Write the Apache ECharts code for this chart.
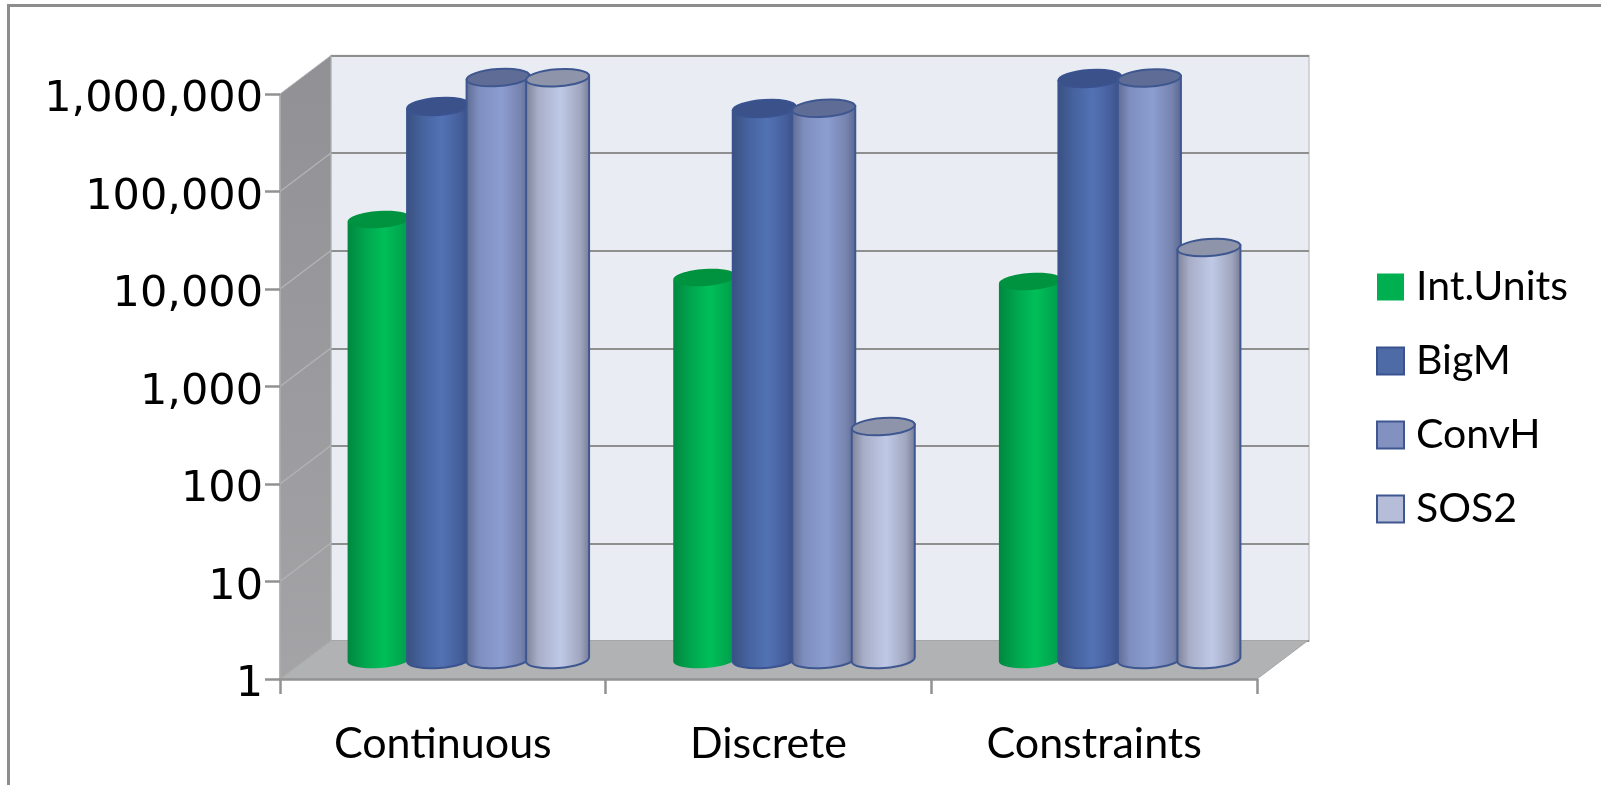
<!DOCTYPE html>
<html>
<head>
<meta charset="utf-8">
<style>html,body{margin:0;padding:0;background:#fff;overflow:hidden}#chart{width:1601px;height:785px}</style>
<script src="https://cdn.jsdelivr.net/npm/echarts@6/dist/echarts.min.js"></script>
</head>
<body>
<div id="chart"></div>
<script>
// Model size comparison on a log scale, one cylinder per formulation
const categories = ['Continuous', 'Discrete', 'Constraints'];
const yTicks = [1, 10, 100, 1000, 10000, 100000, 1000000];
const seriesNames = ['Int.Units', 'BigM', 'ConvH', 'SOS2'];
const intUnits = [32600, 8280, 7530];
const bigM = [470000, 448000, 910000];
const convH = [930000, 450000, 920000];
const sos2 = [925000, 245, 16800];

const seriesValues = [intUnits, bigM, convH, sos2];

// Depth of the 3D box: back wall offset, and the plane the cylinders stand on
const BACK_DX = 51, BACK_DY = -38.5;
const MID_DX = 25.5, MID_DY = -19.5;
const CYL_SPACING = 59.5, CYL_RX = 31.5, CYL_RY = 8.5, CYL_TILT = 0.07;

const styles = [
  { stops: [[0, '#00873f'], [0.3, '#00a84f'], [0.58, '#00bf58'], [1, '#009a4a']], top: '#00933f', border: null, legend: '#00b050' },
  { stops: [[0, '#39507f'], [0.25, '#46639f'], [0.55, '#5272b4'], [0.82, '#465f9c'], [1, '#374c80']], top: '#3a5289', border: '#3a5390', legend: '#4f6ba6' },
  { stops: [[0, '#5d6a90'], [0.2, '#7e8ebf'], [0.55, '#8c9dd0'], [0.85, '#7683ae'], [1, '#59658f']], top: '#5f6d96', border: '#3f5790', legend: '#8291c0' },
  { stops: [[0, '#7a7f94'], [0.2, '#a8aec8'], [0.55, '#bfc9e6'], [0.85, '#a0a6be'], [1, '#747a96']], top: '#8e94a9', border: '#3f5790', legend: '#b5bdd9' }
];

function gradient(stops) {
  return {
    type: 'linear', x: 0, y: 0, x2: 1, y2: 0,
    colorStops: stops.map(s => ({ offset: s[0], color: s[1] }))
  };
}

// One cylinder: body with a rounded base, then the tilted top cap
function cylinderRenderer(index) {
  const st = styles[index];
  return function (params, api) {
    const cat = api.value(0);
    const c = api.coord([cat, api.value(1)]);
    const b = api.coord([cat, 1]);
    const cx = c[0] + MID_DX + (index - 1.5) * CYL_SPACING;
    const topY = c[1] + MID_DY;
    const baseY = b[1] + MID_DY;
    const dy = CYL_RX * CYL_TILT;
    const l = cx - CYL_RX, r = cx + CYL_RX;
    const deg = -CYL_TILT * 180 / Math.PI;
    const d = `M ${l} ${topY + dy} L ${l} ${baseY + dy} ` +
      `A ${CYL_RX} ${CYL_RY} ${deg} 0 0 ${r} ${baseY - dy} L ${r} ${topY - dy} Z`;
    const stroke = st.border ? { stroke: st.border, lineWidth: 2 } : { stroke: null };
    return {
      type: 'group',
      children: [
        { type: 'path', shape: { pathData: d }, style: Object.assign({ fill: gradient(st.stops) }, stroke) },
        {
          type: 'ellipse', x: cx, y: topY, rotation: CYL_TILT,
          shape: { cx: 0, cy: 0, rx: CYL_RX, ry: CYL_RY },
          style: Object.assign({ fill: st.top }, stroke)
        }
      ]
    };
  };
}

// Side wall and floor of the box, hung from the front axes
function wallRenderer(params, api) {
  const top = api.coord([0, 1000000]);
  const bottom = api.coord([0, 1]);
  const rightEnd = api.coord([2, 1]);
  const x0 = top[0] - api.size([1, 0])[0] / 2;
  const x1 = rightEnd[0] + api.size([1, 0])[0] / 2;
  return {
    type: 'group',
    children: [
      {
        type: 'polygon',
        shape: { points: [[x0, top[1]], [x0 + BACK_DX, top[1] + BACK_DY], [x0 + BACK_DX, bottom[1] + BACK_DY], [x0, bottom[1]]] },
        style: {
          fill: { type: 'linear', x: 0, y: 0, x2: 0, y2: 1, colorStops: [{ offset: 0, color: '#919195' }, { offset: 1, color: '#a4a4a7' }] },
          stroke: '#b4b4b4', lineWidth: 1
        }
      },
      {
        type: 'polygon',
        shape: { points: [[x0, bottom[1]], [x0 + BACK_DX, bottom[1] + BACK_DY], [x1 + BACK_DX, bottom[1] + BACK_DY], [x1, bottom[1]]] },
        style: { fill: '#b1b2b4', stroke: '#a6a6a6', lineWidth: 1 }
      }
    ]
  };
}

// Gridlines continuing across the side wall
function wallLineRenderer(params, api) {
  const p = api.coord([0, api.value(0)]);
  const x0 = p[0] - api.size([1, 0])[0] / 2;
  return {
    type: 'line',
    shape: { x1: x0, y1: p[1], x2: x0 + BACK_DX, y2: p[1] + BACK_DY },
    style: { stroke: '#b3b3b5', lineWidth: 1.5 }
  };
}

const FONT = 'Lato';
const FONT_SIZE = 43;
const LEGEND_FONT_SIZE = 41;

const option = {
  animation: false,
  backgroundColor: '#ffffff',
  textStyle: { fontFamily: FONT },
  grid: [
    { left: 280, top: 94, width: 977, height: 585, containLabel: false },
    {
      left: 331, top: 55.5, width: 978, height: 585.5, show: true,
      backgroundColor: '#e9ecf3', borderColor: '#c9c9cb', borderWidth: 1.5, z: 0
    }
  ],
  xAxis: [
    {
      type: 'category', gridIndex: 0, data: categories, z: 5,
      axisLine: { lineStyle: { color: '#929292', width: 2.5 } },
      axisTick: { show: true, length: 15, lineStyle: { color: '#929292', width: 2.5 } },
      axisLabel: { color: '#000', fontFamily: FONT, fontSize: FONT_SIZE, margin: 44 },
      splitLine: { show: false }
    },
    { type: 'category', gridIndex: 1, data: categories, show: false }
  ],
  yAxis: [
    {
      type: 'log', logBase: 10, gridIndex: 0, min: 1, max: 1000000, z: 5,
      axisLine: { show: true, lineStyle: { color: '#a8a8a8', width: 1.5 } },
      axisTick: { show: true, length: 15, lineStyle: { color: '#929292', width: 2.5 } },
      axisLabel: {
        margin: 17,
        formatter: v => '{n|' + Number(v).toLocaleString('en-US') + '}',
        rich: { n: { color: '#000', fontFamily: 'DejaVu Sans', fontSize: 43, padding: [12, 0, 0, 0] } }
      },
      splitLine: { show: false },
      minorTick: { show: false }
    },
    {
      type: 'log', logBase: 10, gridIndex: 1, min: 1, max: 1000000,
      axisLine: { show: false }, axisTick: { show: false }, axisLabel: { show: false },
      splitLine: { show: true, lineStyle: { color: '#8f8f8f', width: 2 } }
    }
  ],
  legend: {
    orient: 'vertical', left: 1371, top: 260,
    itemWidth: 27, itemHeight: 27, itemGap: 30,
    selectedMode: false,
    textStyle: { color: '#000', fontFamily: FONT, fontSize: LEGEND_FONT_SIZE, lineHeight: 44, padding: [0, 0, 0, 7] },
    data: seriesNames.map((name, i) => ({
      name, icon: 'rect',
      itemStyle: { color: styles[i].legend, borderColor: styles[i].border || styles[i].legend, borderWidth: styles[i].border ? 2 : 0 }
    }))
  },
  graphic: [{
    type: 'polyline', silent: true,
    shape: { points: [[8.5, 785], [8.5, 5.5], [1601, 5.5]] },
    style: { stroke: '#8d8d8d', lineWidth: 3, fill: null }
  }],
  series: [
    { type: 'custom', name: 'walls', xAxisIndex: 0, yAxisIndex: 0, z: 1, silent: true, renderItem: wallRenderer, data: [[0]], encode: { x: 0 }, clip: false },
    { type: 'custom', name: 'wallLines', xAxisIndex: 0, yAxisIndex: 0, z: 1, silent: true, renderItem: wallLineRenderer, data: yTicks.slice(1, 6).map(v => [v]), encode: { y: 0 }, clip: false }
  ].concat(seriesNames.map((name, i) => ({
    type: 'custom', name, xAxisIndex: 0, yAxisIndex: 0, z: 2 + i,
    itemStyle: { color: styles[i].legend },
    renderItem: cylinderRenderer(i),
    encode: { x: 0, y: 1 },
    clip: false,
    data: seriesValues[i].map((v, c) => [c, v])
  })))
};

echarts.init(document.getElementById('chart'), null, { renderer: 'canvas' }).setOption(option);
</script>
</body>
</html>
